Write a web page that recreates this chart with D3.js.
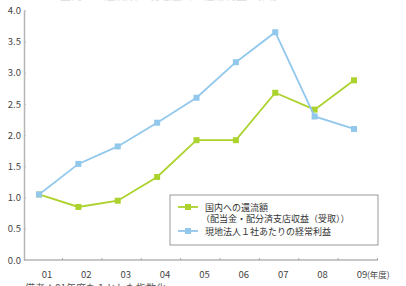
<!DOCTYPE html>
<html>
<head>
<meta charset="utf-8">
<script src="https://cdn.jsdelivr.net/npm/d3@7"></script>
<style>
  body { margin: 0; background: #fff; }
  text { font-family: "Noto Sans CJK JP", "Noto Sans", sans-serif; }
</style>
</head>
<body>
<div id="chart"></div>
<script>
// chart data (index, FY2001 = 1)
var years = ['01', '02', '03', '04', '05', '06', '07', '08', '09'];
var repatriation = [1.05, 0.85, 0.95, 1.33, 1.92, 1.92, 2.68, 2.41, 2.88];
var profitPerAffiliate = [1.05, 1.54, 1.82, 2.2, 2.6, 3.17, 3.65, 2.3, 2.1];
var yTicks = [0, 0.5, 1, 1.5, 2, 2.5, 3, 3.5, 4];
var legendLabels = [['国内への還流額', '（配当金・配分済支店収益（受取））'], ['現地法人１社あたりの経常利益']];
var seriesColors = ['#acd22e', '#92c8ec'];

var width = 406, height = 286;
var translate = (x, y) => "translate(" + x + "," + y + ")";

var svg = d3.select('#chart').append('svg')
    .attr('width', width)
    .attr('height', height);

var x = d3.scalePoint()
    .domain(years)
    .range([39, 354]);

var y = d3.scaleLinear()
    .domain([0, 4])
    .range([260, 10.4]);

// cut-off title at very top
svg.append('text')
    .attr('x', 60)
    .attr('y', 0.2)
    .attr('font-size', '11px')
    .attr('fill', '#ddd')
    .text('国内への還流額と現地法人の経常利益の推移');

// y axis
var yAxis = d3.axisRight(y)
    .tickValues(yTicks)
    .tickSize(2)
    .tickSizeOuter(0)
    .tickFormat(d3.format('.1f'));

var yg = svg.append('g')
    .attr('transform', translate(24, 0))
    .call(yAxis);
yg.select('.domain').attr('stroke', '#b5b5b5').attr('stroke-width', 1.5);
yg.selectAll('.tick line').attr('stroke', '#bbb');
yg.selectAll('.tick text')
    .attr('x', -3)
    .attr('text-anchor', 'end')
    .attr('font-family', 'Liberation Sans, sans-serif')
    .attr('font-size', '9.5px')
    .attr('fill', '#444');

// x axis
var xg = svg.append('g').attr('transform', translate(0, 260));
xg.append('line')
    .attr('x1', 24).attr('x2', 378)
    .attr('stroke', '#b5b5b5').attr('stroke-width', 1.5);
xg.selectAll('line.tick')
    .data(years)
    .enter().append('line')
    .attr('class', 'tick')
    .attr('x1', d => x(d) + 23.5).attr('x2', d => x(d) + 23.5)
    .attr('y1', -2).attr('y2', 0)
    .attr('stroke', '#aaa');
xg.selectAll('text')
    .data(years)
    .enter().append('text')
    .attr('x', d => x(d) + 8)
    .attr('y', 18)
    .attr('text-anchor', 'middle')
    .attr('font-family', 'Liberation Sans, sans-serif')
    .attr('font-size', '9.5px')
    .attr('fill', '#444')
    .text(d => d);
xg.append('text')
    .attr('x', 367)
    .attr('y', 18)
    .attr('font-size', '8.5px')
    .attr('fill', '#444')
    .text('(年度)');

// lines
var series = [repatriation, profitPerAffiliate];
var line = d3.line()
    .x((d, i) => x(years[i]))
    .y(d => y(d));

series.forEach((s, k) => {
    svg.append('path')
        .datum(s)
        .attr('d', line)
        .attr('fill', 'none')
        .attr('stroke', seriesColors[k])
        .attr('stroke-width', 1.8);
    svg.selectAll('rect.m' + k)
        .data(s)
        .enter().append('rect')
        .attr('class', 'm' + k)
        .attr('x', (d, i) => x(years[i]) - 3)
        .attr('y', d => y(d) - 3)
        .attr('width', 6)
        .attr('height', 6)
        .attr('fill', seriesColors[k]);
});

// legend
var legend = svg.append('g').attr('transform', translate(170, 195));
legend.append('rect')
    .attr('x', 0).attr('y', 0)
    .attr('width', 208).attr('height', 50)
    .attr('fill', '#fff')
    .attr('stroke', '#999')
    .attr('stroke-width', 1);

var rowsY = [12, 36];
legendLabels.forEach((lines, k) => {
    var g = legend.append('g').attr('transform', translate(0, rowsY[k]));
    g.append('line')
        .attr('x1', 8).attr('x2', 28)
        .attr('stroke', seriesColors[k]).attr('stroke-width', 1.8);
    g.append('rect')
        .attr('x', 15).attr('y', -3)
        .attr('width', 6).attr('height', 6)
        .attr('fill', seriesColors[k]);
    lines.forEach((t, j) => {
        g.append('text')
            .attr('x', j === 0 ? 35 : 31)
            .attr('y', 3.5 + j * 11.5)
            .attr('font-size', '9px')
            .attr('fill', '#333')
            .text(t);
    });
});

// note, cut off at the bottom
svg.append('text')
    .attr('x', 25)
    .attr('y', 292)
    .attr('font-size', '10px')
    .attr('fill', '#555')
    .text('備考：01年度を１とした指数化。');
</script>
</body>
</html>
